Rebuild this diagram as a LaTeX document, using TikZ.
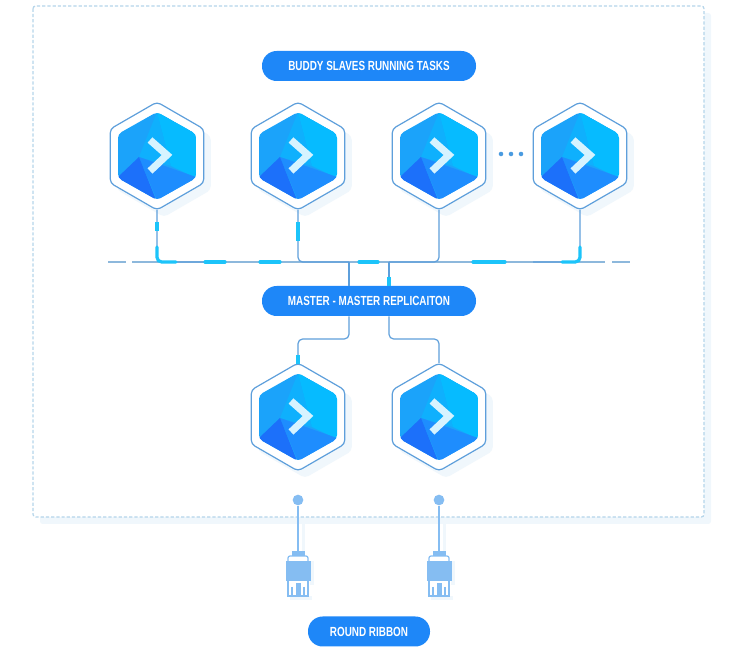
\documentclass[tikz,border=0pt]{standalone}
\usepackage{fontspec}
\usetikzlibrary{shapes.geometric}
\newfontfamily\pillfont[FakeStretch=0.75]{Liberation Sans}
\definecolor{pillblue}{HTML}{1E87F8}
\definecolor{wireblue}{HTML}{5E9FDB}
\definecolor{busblue}{HTML}{8DB8DC}
\definecolor{glowcyan}{HTML}{1CC4FA}
\definecolor{plugblue}{HTML}{85BDF2}
\definecolor{shadeblue}{HTML}{F0F7FC}
\definecolor{framedash}{HTML}{B5D5EA}
\definecolor{dotblue}{HTML}{4A9BE0}
\tikzset{
  hexframe/.style={regular polygon, regular polygon sides=6, shape border rotate=30, minimum size=81pt, inner sep=0pt, outer sep=0pt, rounded corners=3pt, draw=wireblue, line width=0.9pt, fill=white},
  hexshade/.style={regular polygon, regular polygon sides=6, shape border rotate=30, minimum size=81pt, inner sep=0pt, outer sep=0pt, rounded corners=3pt, fill=shadeblue},
  pill/.style={rounded corners=11pt, fill=pillblue, text=white, minimum height=22.5pt, inner sep=0pt, font=\pillfont\bfseries\fontsize{9.9pt}{11pt}\selectfont},
  wire/.style={draw=wireblue, line width=0.9pt, rounded corners=3.5pt},
  bus/.style={draw=busblue, line width=0.9pt},
  glow/.style={draw=glowcyan, line width=2.4pt, line cap=round, rounded corners=3.5pt},
  spot/.style={fill=dotblue, circle, inner sep=0pt, minimum size=3.4pt},
  hexface/.pic={
    \begin{scope}
    \clip[rounded corners=3pt] (0,-44) -- (39,-22) -- (39,22) -- (0,44) -- (-39,22) -- (-39,-22) -- cycle;
    \fill[fill={rgb,255:red,27;green,163;blue,250}] (-39,-44) rectangle (39,44);
    \fill[fill={rgb,255:red,15;green,176;blue,253}] (0,-44) -- (14,10) -- (-18,1) -- cycle;
    \fill[fill={rgb,255:red,6;green,187;blue,255}] (0,-44) -- (39,-22) -- (39,22) -- (14,10) -- cycle;
    \fill[fill={rgb,255:red,30;green,141;blue,254}] (-18,1) -- (39,21) -- (39,44) -- (0,44) -- cycle;
    \fill[fill={rgb,255:red,28;green,112;blue,250}] (-18,1) -- (-39,21) -- (-39,44) -- (-1,44) -- cycle;
    \end{scope}
    \draw[draw={rgb,255:red,214;green,243;blue,255}, line width=5.4pt, miter limit=4] (-7,-16) -- (10,-1) -- (-7,15);
  },
  plug/.pic={
    \fill[shadeblue] (12,6) rectangle (16,30);
    \fill[shadeblue] (-8,41) rectangle (14,45);
    \fill[white] (-12,7) rectangle (12,41);
    \fill[plugblue] (-6,-4) rectangle (7,1);
    \draw[plugblue, line width=0.9pt, rounded corners=1.5pt] (-10,10) -- (-10,1) -- (10,1) -- (10,10);
    \fill[plugblue] (-12.5,6) rectangle (12.5,26);
    \draw[plugblue, line width=0.9pt] (-10,26) -- (-10,41) -- (10,41) -- (10,26);
    \fill[plugblue] (-2.5,28) rectangle (2.5,41);
    \draw[plugblue, line width=0.9pt] (-6,32) -- (-6,41) (6,32) -- (6,41);
  }
}
\begin{document}
\begin{tikzpicture}[x=0.75pt,y=-0.75pt]
\useasboundingbox (0,0) rectangle (740,648);
% outer frame
\fill[shadeblue,rounded corners=2pt] (40,13) rectangle (711,524);
\draw[framedash,fill=white,line width=0.9pt,dash pattern=on 2.4pt off 1.5pt,rounded corners=2pt] (33,6) rectangle (704,517);
% bus
\coordinate (busw) at (108,262);
\coordinate (buse) at (630,262);
\coordinate (bus1) at (205,262);
\coordinate (busm) at (349,262);
\coordinate (busr) at (389,262);
\coordinate (bus4) at (533,262);
\coordinate (busl1) at (349,339);
\coordinate (busl2) at (389,339);
\draw[bus,dash pattern=on 13.5pt off 4.5pt on 355pt off 5pt on 20pt] (busw) -- (buse);
% hexagons
\foreach \n/\x/\y in {bs1/157/156,bs2/298/156,bs3/439/156,bs4/580/156,mm1/298/417,mm2/439/417}{
  \node[hexshade] at (\x+7,\y+7) {};
  \node[hexframe] (\n) at (\x,\y) {};
  \pic at (\x,\y) {hexface};
}
\node[spot] (dot1) at (501,154) {};
\node[spot] (dot2) at (511,154) {};
\node[spot] (dot3) at (521,154) {};
% pills
\node[pill,minimum width=160.5pt] (buddy) at (369,66) {BUDDY SLAVES RUNNING TASKS};
\node[pill,minimum width=160.5pt] (master) at (369,301) {MASTER - MASTER REPLICAITON};
\node[pill,minimum width=91.5pt] (ribbon) at (369,631.5) {ROUND RIBBON};
% wires
\draw[wire] (bs1.south) |- (bus1);
\draw[wire] (bs2.south) |- (busm);
\draw[wire] (bs3.south) |- (busr);
\draw[wire] (bs4.south) |- (bus4);
\draw[wire,rounded corners=0pt] (busm) -- (master.north -| busm);
\draw[wire,rounded corners=0pt] (busr) -- (master.north -| busr);
\draw[wire] (master.south -| busl1) |- (298,339) -- (mm1.north);
\draw[wire] (master.south -| busl2) |- (439,339) -- (mm2.north);
% cyan bits
\draw[glow,line cap=butt] (157,222) -- (157,231);
\draw[glow,rounded corners=3.5pt] (157,247) |- (176,262);
\draw[glow] (205,262) -- (225,262);
\draw[glow] (260,262) -- (280,262);
\draw[glow,line cap=butt] (298,222) -- (298,241);
\draw[glow] (359,262) -- (378,262);
\draw[glow] (473,262) -- (505,262);
\draw[glow,rounded corners=3.5pt] (580,247) |- (562,262);
\draw[glow,line cap=butt] (389,277) -- (389,286);
\draw[glow,line cap=butt] (298,355) -- (298,364);
% ribbons
\foreach \n/\x in {1/298,2/439}{
  \coordinate (plug\n) at (\x,551);
  \fill[shadeblue] (\x+4,520) rectangle (\x+7,552);
  \pic at (\x,555) {plug};
  \node[fill=plugblue,circle,inner sep=0pt,minimum size=8pt] (rp\n) at (\x,500) {};
  \draw[plugblue,line width=1.9pt] (rp\n) -- (plug\n);
}
\end{tikzpicture}
\end{document}
